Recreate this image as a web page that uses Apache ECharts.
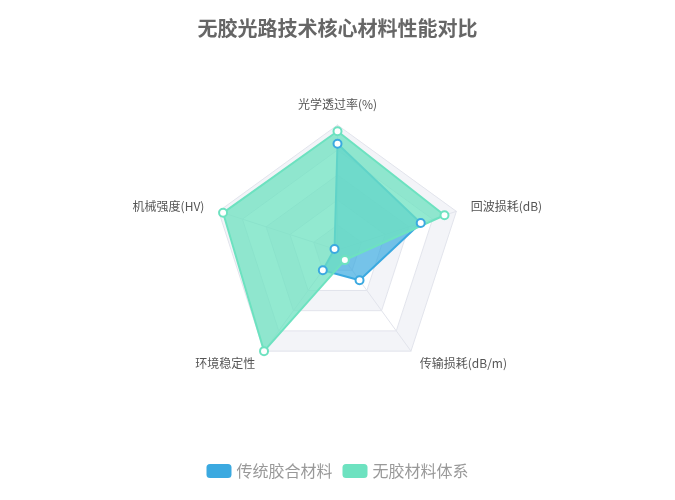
<!DOCTYPE html>
<html>
<head>
<meta charset="utf-8">
<script src="https://cdn.jsdelivr.net/npm/echarts@6/dist/echarts.min.js"></script>
<style>html,body{margin:0;padding:0;background:#fff}#c{width:675px;height:500px}</style>
</head>
<body>
<div id="c"></div>
<script>
// indicators listed in ECharts drawing order (counter-clockwise from the top)
var indicatorNames = ['光学透过率(%)', '机械强度(HV)', '环境稳定性', '传输损耗(dB/m)', '回波损耗(dB)'];
var indicatorMax = [100, 800, 10, 1, 60];
var seriesNames = ['传统胶合材料', '无胶材料体系'];
var traditionalValues = [85, 20, 2, 0.3, 42];
var gluelessValues = [95, 770, 10, 0.1, 54];

var chart = echarts.init(document.getElementById('c'));
chart.setOption({
  title: {
    text: '无胶光路技术核心材料性能对比',
    left: 'center',
    top: 13,
    textStyle: { fontSize: 20, fontWeight: 'bold', color: '#666', fontFamily: 'Noto Sans CJK SC' }
  },
  legend: {
    bottom: 16,
    left: 'center',
    itemWidth: 25,
    itemHeight: 14,
    itemGap: 10,
    textStyle: { fontSize: 16, color: '#999', fontFamily: 'Noto Sans CJK SC' },
    data: seriesNames
  },
  radar: {
    center: ['50%', '50%'],
    radius: '50%',
    splitNumber: 5,
    indicator: indicatorNames.map(function (n, i) { return { name: n, max: indicatorMax[i] }; }),
    axisName: { color: '#555', fontSize: 12, fontFamily: 'Noto Sans CJK SC' },
    nameGap: 15,
    splitLine: { lineStyle: { color: '#e2e4ec' } },
    splitArea: { show: true, areaStyle: { color: ['#f3f4f8', '#ffffff'] } },
    axisLine: { lineStyle: { color: '#e2e4ec' } }
  },
  series: [{
    type: 'radar',
    symbol: 'emptyCircle',
    symbolSize: 8,
    data: [
      {
        name: seriesNames[0],
        value: traditionalValues,
        itemStyle: { color: '#3ba9e0', borderWidth: 2 },
        lineStyle: { color: '#3ba9e0', width: 2 },
        areaStyle: { color: '#3ba9e0', opacity: 0.7 }
      },
      {
        name: seriesNames[1],
        value: gluelessValues,
        itemStyle: { color: '#6de2c0', borderWidth: 2 },
        lineStyle: { color: '#6de2c0', width: 2 },
        areaStyle: { color: '#6de2c0', opacity: 0.75 }
      }
    ]
  }]
});
</script>
</body>
</html>
